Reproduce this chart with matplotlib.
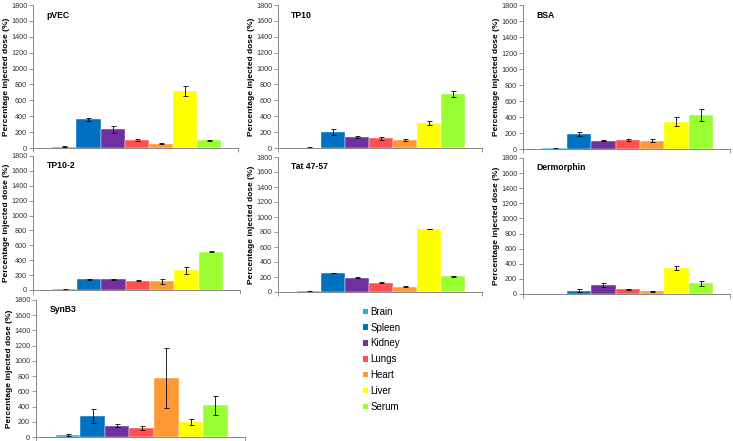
import matplotlib
matplotlib.use("Agg")
import matplotlib.pyplot as plt
from matplotlib.patches import Patch
import numpy as np

plt.rcParams['font.family'] = ['Liberation Sans', 'DejaVu Sans']

organs = ["Brain", "Spleen", "Kidney", "Lungs", "Heart", "Liver", "Serum"]
colors = ["#1FB0E8", "#0070C0", "#7030A0", "#FF5050", "#FF9933", "#FFFF00", "#99FF33"]

peptides = ["pVEC", "TP10", "BSA", "TP10-2", "Tat 47-57", "Dermorphin", "SynB3"]

pvec_mean = [15, 360, 235, 100, 55, 720, 95]
pvec_err = [4, 20, 40, 10, 5, 60, 8]
tp10_mean = [5, 200, 140, 120, 95, 320, 680]
tp10_err = [2, 35, 15, 20, 12, 25, 40]
bsa_mean = [8, 185, 105, 110, 105, 340, 425]
bsa_err = [3, 25, 10, 12, 18, 55, 70]
tp102_mean = [8, 145, 145, 125, 115, 265, 515]
tp102_err = [5, 8, 5, 5, 35, 50, 5]
tat_mean = [10, 255, 190, 125, 70, 840, 210]
tat_err = [4, 5, 5, 5, 5, 5, 5]
derm_mean = [2, 45, 115, 60, 35, 340, 140]
derm_err = [1, 15, 25, 10, 8, 25, 35]
synb3_mean = [25, 280, 145, 120, 780, 195, 415]
synb3_err = [8, 90, 20, 30, 395, 35, 125]

means = [pvec_mean, tp10_mean, bsa_mean, tp102_mean, tat_mean, derm_mean, synb3_mean]
errs = [pvec_err, tp10_err, bsa_err, tp102_err, tat_err, derm_err, synb3_err]

yticks = list(range(0, 1801, 200))

W, H = 733, 441
fig = plt.figure(figsize=(W / 100, H / 100), dpi=100)

# (left, top, right, bottom) in pixels
boxes = [
    (33, 5, 238, 148),
    (278, 5, 482, 148),
    (523, 5, 730, 149),
    (33, 156, 240, 290),
    (278, 157, 482, 292),
    (523, 158, 730, 294),
    (36, 300, 245, 437),
]

spine_col = "#868686"
x = np.arange(len(organs))
for name, m, e, (l, t, r, b) in zip(peptides, means, errs, boxes):
    ax = fig.add_axes([l / W, 1 - b / H, (r - l) / W, (b - t) / H])
    ax.bar(x, m, width=1.0, color=colors, edgecolor="white", linewidth=0.3,
           yerr=e, error_kw=dict(ecolor="black", elinewidth=0.6, capsize=1.8, capthick=0.6))
    ax.set_xlim(-1.3, 7.2)
    ax.set_ylim(0, 1800)
    ax.set_yticks(yticks)
    ax.set_xticks([])
    ax.set_xticks([-1.3, 7.2], minor=True)
    ax.tick_params(axis='x', which='minor', length=3, width=0.6, color=spine_col, labelbottom=False)
    ax.tick_params(axis='y', length=3, width=0.6, color=spine_col, labelsize=5.2,
                   labelcolor="#333333", pad=1.2)
    for s in ["top", "right"]:
        ax.spines[s].set_visible(False)
    for s in ["left", "bottom"]:
        ax.spines[s].set_color(spine_col)
        ax.spines[s].set_linewidth(0.7)
    ax.set_ylabel("Percentage injected dose (%)", fontsize=6, fontweight="bold", labelpad=0.8)
    ax.text(0.065, 0.96, name, transform=ax.transAxes, fontsize=6.2, fontweight="bold",
            va="top", ha="left")

handles = [Patch(facecolor=c, edgecolor="none") for c in colors]
fig.legend(handles, organs, loc="upper left", bbox_to_anchor=(356 / W, 1 - 300 / H),
           frameon=False, fontsize=7, handlelength=0.5, handleheight=0.5,
           handletextpad=0.25, labelspacing=0.6, borderpad=0.2)

fig.savefig("out.png", dpi=100)
